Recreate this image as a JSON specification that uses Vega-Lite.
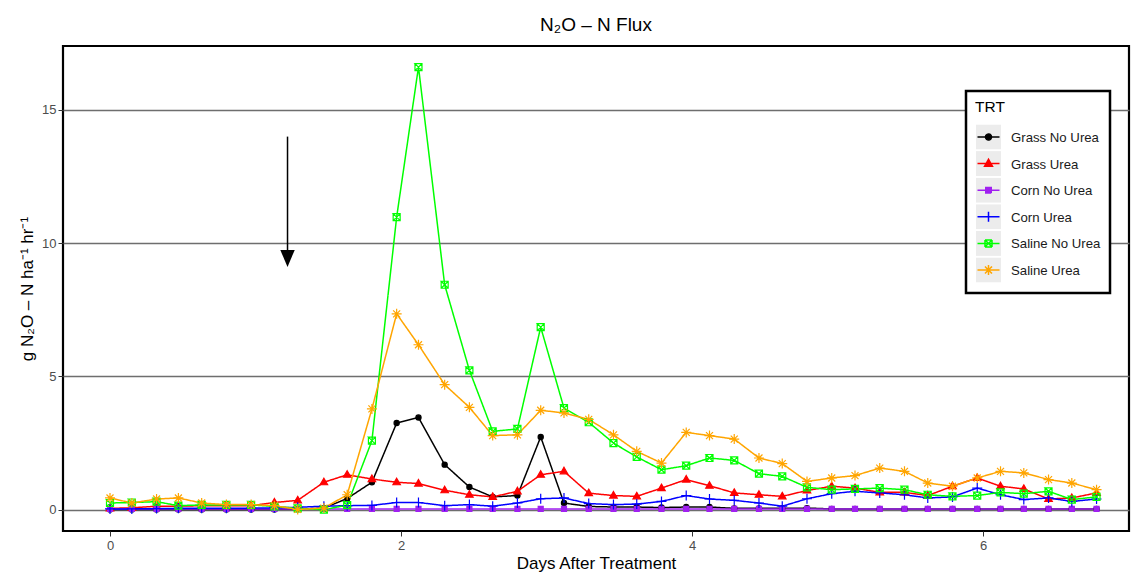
{
  "$schema": "https://vega.github.io/schema/vega-lite/v6.json",
  "width": 1066,
  "height": 485,
  "autosize": "none",
  "padding": {"left": 63, "top": 46, "right": 4, "bottom": 42},
  "background": "white",
  "title": {"text": "N₂O – N Flux", "fontSize": 19, "fontWeight": "normal", "color": "black", "anchor": "middle", "offset": 11},
  "data": {"values": [
    {"day":0,"TRT":"Grass No Urea","flux":0.01},{"day":0.15,"TRT":"Grass No Urea","flux":0.01},{"day":0.32,"TRT":"Grass No Urea","flux":0.01},{"day":0.47,"TRT":"Grass No Urea","flux":0.01},{"day":0.63,"TRT":"Grass No Urea","flux":0.01},{"day":0.80,"TRT":"Grass No Urea","flux":0.01},{"day":0.97,"TRT":"Grass No Urea","flux":0.01},{"day":1.13,"TRT":"Grass No Urea","flux":0.01},{"day":1.29,"TRT":"Grass No Urea","flux":0.02},{"day":1.47,"TRT":"Grass No Urea","flux":0.06},{"day":1.63,"TRT":"Grass No Urea","flux":0.42},{"day":1.80,"TRT":"Grass No Urea","flux":1.03},{"day":1.97,"TRT":"Grass No Urea","flux":3.25},{"day":2.12,"TRT":"Grass No Urea","flux":3.46},{"day":2.30,"TRT":"Grass No Urea","flux":1.69},{"day":2.47,"TRT":"Grass No Urea","flux":0.85},{"day":2.63,"TRT":"Grass No Urea","flux":0.48},{"day":2.80,"TRT":"Grass No Urea","flux":0.53},{"day":2.96,"TRT":"Grass No Urea","flux":2.73},{"day":3.12,"TRT":"Grass No Urea","flux":0.25},{"day":3.29,"TRT":"Grass No Urea","flux":0.12},{"day":3.46,"TRT":"Grass No Urea","flux":0.10},{"day":3.62,"TRT":"Grass No Urea","flux":0.10},{"day":3.79,"TRT":"Grass No Urea","flux":0.08},{"day":3.96,"TRT":"Grass No Urea","flux":0.10},{"day":4.12,"TRT":"Grass No Urea","flux":0.10},{"day":4.29,"TRT":"Grass No Urea","flux":0.05},{"day":4.46,"TRT":"Grass No Urea","flux":0.05},{"day":4.62,"TRT":"Grass No Urea","flux":0.05},{"day":4.79,"TRT":"Grass No Urea","flux":0.06},{"day":4.96,"TRT":"Grass No Urea","flux":0.03},{"day":5.12,"TRT":"Grass No Urea","flux":0.03},{"day":5.29,"TRT":"Grass No Urea","flux":0.03},{"day":5.46,"TRT":"Grass No Urea","flux":0.03},{"day":5.62,"TRT":"Grass No Urea","flux":0.03},{"day":5.79,"TRT":"Grass No Urea","flux":0.03},{"day":5.96,"TRT":"Grass No Urea","flux":0.03},{"day":6.12,"TRT":"Grass No Urea","flux":0.03},{"day":6.28,"TRT":"Grass No Urea","flux":0.03},{"day":6.45,"TRT":"Grass No Urea","flux":0.03},{"day":6.61,"TRT":"Grass No Urea","flux":0.03},{"day":6.78,"TRT":"Grass No Urea","flux":0.03},
    {"day":0,"TRT":"Grass Urea","flux":0.05},{"day":0.15,"TRT":"Grass Urea","flux":0.07},{"day":0.32,"TRT":"Grass Urea","flux":0.13},{"day":0.47,"TRT":"Grass Urea","flux":0.13},{"day":0.63,"TRT":"Grass Urea","flux":0.15},{"day":0.80,"TRT":"Grass Urea","flux":0.15},{"day":0.97,"TRT":"Grass Urea","flux":0.15},{"day":1.13,"TRT":"Grass Urea","flux":0.27},{"day":1.29,"TRT":"Grass Urea","flux":0.35},{"day":1.47,"TRT":"Grass Urea","flux":1.03},{"day":1.63,"TRT":"Grass Urea","flux":1.31},{"day":1.80,"TRT":"Grass Urea","flux":1.15},{"day":1.97,"TRT":"Grass Urea","flux":1.03},{"day":2.12,"TRT":"Grass Urea","flux":0.98},{"day":2.30,"TRT":"Grass Urea","flux":0.73},{"day":2.47,"TRT":"Grass Urea","flux":0.56},{"day":2.63,"TRT":"Grass Urea","flux":0.48},{"day":2.80,"TRT":"Grass Urea","flux":0.69},{"day":2.96,"TRT":"Grass Urea","flux":1.31},{"day":3.12,"TRT":"Grass Urea","flux":1.44},{"day":3.29,"TRT":"Grass Urea","flux":0.62},{"day":3.46,"TRT":"Grass Urea","flux":0.53},{"day":3.62,"TRT":"Grass Urea","flux":0.50},{"day":3.79,"TRT":"Grass Urea","flux":0.81},{"day":3.96,"TRT":"Grass Urea","flux":1.13},{"day":4.12,"TRT":"Grass Urea","flux":0.90},{"day":4.29,"TRT":"Grass Urea","flux":0.63},{"day":4.46,"TRT":"Grass Urea","flux":0.56},{"day":4.62,"TRT":"Grass Urea","flux":0.50},{"day":4.79,"TRT":"Grass Urea","flux":0.72},{"day":4.96,"TRT":"Grass Urea","flux":0.88},{"day":5.12,"TRT":"Grass Urea","flux":0.81},{"day":5.29,"TRT":"Grass Urea","flux":0.65},{"day":5.46,"TRT":"Grass Urea","flux":0.65},{"day":5.62,"TRT":"Grass Urea","flux":0.53},{"day":5.79,"TRT":"Grass Urea","flux":0.88},{"day":5.96,"TRT":"Grass Urea","flux":1.19},{"day":6.12,"TRT":"Grass Urea","flux":0.88},{"day":6.28,"TRT":"Grass Urea","flux":0.78},{"day":6.45,"TRT":"Grass Urea","flux":0.40},{"day":6.61,"TRT":"Grass Urea","flux":0.44},{"day":6.78,"TRT":"Grass Urea","flux":0.63},
    {"day":0,"TRT":"Corn No Urea","flux":0.03},{"day":0.15,"TRT":"Corn No Urea","flux":0.03},{"day":0.32,"TRT":"Corn No Urea","flux":0.03},{"day":0.47,"TRT":"Corn No Urea","flux":0.03},{"day":0.63,"TRT":"Corn No Urea","flux":0.03},{"day":0.80,"TRT":"Corn No Urea","flux":0.03},{"day":0.97,"TRT":"Corn No Urea","flux":0.03},{"day":1.13,"TRT":"Corn No Urea","flux":0.03},{"day":1.29,"TRT":"Corn No Urea","flux":0.03},{"day":1.47,"TRT":"Corn No Urea","flux":0.03},{"day":1.63,"TRT":"Corn No Urea","flux":0.03},{"day":1.80,"TRT":"Corn No Urea","flux":0.03},{"day":1.97,"TRT":"Corn No Urea","flux":0.03},{"day":2.12,"TRT":"Corn No Urea","flux":0.03},{"day":2.30,"TRT":"Corn No Urea","flux":0.03},{"day":2.47,"TRT":"Corn No Urea","flux":0.03},{"day":2.63,"TRT":"Corn No Urea","flux":0.03},{"day":2.80,"TRT":"Corn No Urea","flux":0.03},{"day":2.96,"TRT":"Corn No Urea","flux":0.03},{"day":3.12,"TRT":"Corn No Urea","flux":0.03},{"day":3.29,"TRT":"Corn No Urea","flux":0.03},{"day":3.46,"TRT":"Corn No Urea","flux":0.03},{"day":3.62,"TRT":"Corn No Urea","flux":0.03},{"day":3.79,"TRT":"Corn No Urea","flux":0.03},{"day":3.96,"TRT":"Corn No Urea","flux":0.03},{"day":4.12,"TRT":"Corn No Urea","flux":0.03},{"day":4.29,"TRT":"Corn No Urea","flux":0.03},{"day":4.46,"TRT":"Corn No Urea","flux":0.03},{"day":4.62,"TRT":"Corn No Urea","flux":0.03},{"day":4.79,"TRT":"Corn No Urea","flux":0.03},{"day":4.96,"TRT":"Corn No Urea","flux":0.03},{"day":5.12,"TRT":"Corn No Urea","flux":0.03},{"day":5.29,"TRT":"Corn No Urea","flux":0.03},{"day":5.46,"TRT":"Corn No Urea","flux":0.03},{"day":5.62,"TRT":"Corn No Urea","flux":0.03},{"day":5.79,"TRT":"Corn No Urea","flux":0.03},{"day":5.96,"TRT":"Corn No Urea","flux":0.03},{"day":6.12,"TRT":"Corn No Urea","flux":0.03},{"day":6.28,"TRT":"Corn No Urea","flux":0.03},{"day":6.45,"TRT":"Corn No Urea","flux":0.03},{"day":6.61,"TRT":"Corn No Urea","flux":0.03},{"day":6.78,"TRT":"Corn No Urea","flux":0.03},
    {"day":0,"TRT":"Corn Urea","flux":0.03},{"day":0.15,"TRT":"Corn Urea","flux":0.03},{"day":0.32,"TRT":"Corn Urea","flux":0.04},{"day":0.47,"TRT":"Corn Urea","flux":0.05},{"day":0.63,"TRT":"Corn Urea","flux":0.05},{"day":0.80,"TRT":"Corn Urea","flux":0.05},{"day":0.97,"TRT":"Corn Urea","flux":0.06},{"day":1.13,"TRT":"Corn Urea","flux":0.07},{"day":1.29,"TRT":"Corn Urea","flux":0.09},{"day":1.47,"TRT":"Corn Urea","flux":0.13},{"day":1.63,"TRT":"Corn Urea","flux":0.15},{"day":1.80,"TRT":"Corn Urea","flux":0.16},{"day":1.97,"TRT":"Corn Urea","flux":0.27},{"day":2.12,"TRT":"Corn Urea","flux":0.27},{"day":2.30,"TRT":"Corn Urea","flux":0.15},{"day":2.47,"TRT":"Corn Urea","flux":0.19},{"day":2.63,"TRT":"Corn Urea","flux":0.13},{"day":2.80,"TRT":"Corn Urea","flux":0.25},{"day":2.96,"TRT":"Corn Urea","flux":0.41},{"day":3.12,"TRT":"Corn Urea","flux":0.44},{"day":3.29,"TRT":"Corn Urea","flux":0.23},{"day":3.46,"TRT":"Corn Urea","flux":0.19},{"day":3.62,"TRT":"Corn Urea","flux":0.21},{"day":3.79,"TRT":"Corn Urea","flux":0.31},{"day":3.96,"TRT":"Corn Urea","flux":0.53},{"day":4.12,"TRT":"Corn Urea","flux":0.40},{"day":4.29,"TRT":"Corn Urea","flux":0.35},{"day":4.46,"TRT":"Corn Urea","flux":0.25},{"day":4.62,"TRT":"Corn Urea","flux":0.13},{"day":4.79,"TRT":"Corn Urea","flux":0.41},{"day":4.96,"TRT":"Corn Urea","flux":0.60},{"day":5.12,"TRT":"Corn Urea","flux":0.69},{"day":5.29,"TRT":"Corn Urea","flux":0.63},{"day":5.46,"TRT":"Corn Urea","flux":0.56},{"day":5.62,"TRT":"Corn Urea","flux":0.44},{"day":5.79,"TRT":"Corn Urea","flux":0.48},{"day":5.96,"TRT":"Corn Urea","flux":0.81},{"day":6.12,"TRT":"Corn Urea","flux":0.56},{"day":6.28,"TRT":"Corn Urea","flux":0.38},{"day":6.45,"TRT":"Corn Urea","flux":0.44},{"day":6.61,"TRT":"Corn Urea","flux":0.31},{"day":6.78,"TRT":"Corn Urea","flux":0.40},
    {"day":0,"TRT":"Saline No Urea","flux":0.25},{"day":0.15,"TRT":"Saline No Urea","flux":0.27},{"day":0.32,"TRT":"Saline No Urea","flux":0.30},{"day":0.47,"TRT":"Saline No Urea","flux":0.15},{"day":0.63,"TRT":"Saline No Urea","flux":0.18},{"day":0.80,"TRT":"Saline No Urea","flux":0.18},{"day":0.97,"TRT":"Saline No Urea","flux":0.18},{"day":1.13,"TRT":"Saline No Urea","flux":0.12},{"day":1.29,"TRT":"Saline No Urea","flux":0.05},{"day":1.47,"TRT":"Saline No Urea","flux":0.0},{"day":1.63,"TRT":"Saline No Urea","flux":0.17},{"day":1.80,"TRT":"Saline No Urea","flux":2.59},{"day":1.97,"TRT":"Saline No Urea","flux":10.98},{"day":2.12,"TRT":"Saline No Urea","flux":16.61},{"day":2.30,"TRT":"Saline No Urea","flux":8.44},{"day":2.47,"TRT":"Saline No Urea","flux":5.23},{"day":2.63,"TRT":"Saline No Urea","flux":2.94},{"day":2.80,"TRT":"Saline No Urea","flux":3.03},{"day":2.96,"TRT":"Saline No Urea","flux":6.85},{"day":3.12,"TRT":"Saline No Urea","flux":3.81},{"day":3.29,"TRT":"Saline No Urea","flux":3.28},{"day":3.46,"TRT":"Saline No Urea","flux":2.50},{"day":3.62,"TRT":"Saline No Urea","flux":1.98},{"day":3.79,"TRT":"Saline No Urea","flux":1.50},{"day":3.96,"TRT":"Saline No Urea","flux":1.65},{"day":4.12,"TRT":"Saline No Urea","flux":1.94},{"day":4.29,"TRT":"Saline No Urea","flux":1.85},{"day":4.46,"TRT":"Saline No Urea","flux":1.35},{"day":4.62,"TRT":"Saline No Urea","flux":1.25},{"day":4.79,"TRT":"Saline No Urea","flux":0.84},{"day":4.96,"TRT":"Saline No Urea","flux":0.75},{"day":5.12,"TRT":"Saline No Urea","flux":0.78},{"day":5.29,"TRT":"Saline No Urea","flux":0.81},{"day":5.46,"TRT":"Saline No Urea","flux":0.75},{"day":5.62,"TRT":"Saline No Urea","flux":0.56},{"day":5.79,"TRT":"Saline No Urea","flux":0.50},{"day":5.96,"TRT":"Saline No Urea","flux":0.53},{"day":6.12,"TRT":"Saline No Urea","flux":0.65},{"day":6.28,"TRT":"Saline No Urea","flux":0.60},{"day":6.45,"TRT":"Saline No Urea","flux":0.69},{"day":6.61,"TRT":"Saline No Urea","flux":0.38},{"day":6.78,"TRT":"Saline No Urea","flux":0.48},
    {"day":0,"TRT":"Saline Urea","flux":0.44},{"day":0.15,"TRT":"Saline Urea","flux":0.25},{"day":0.32,"TRT":"Saline Urea","flux":0.40},{"day":0.47,"TRT":"Saline Urea","flux":0.44},{"day":0.63,"TRT":"Saline Urea","flux":0.25},{"day":0.80,"TRT":"Saline Urea","flux":0.19},{"day":0.97,"TRT":"Saline Urea","flux":0.19},{"day":1.13,"TRT":"Saline Urea","flux":0.15},{"day":1.29,"TRT":"Saline Urea","flux":0.01},{"day":1.47,"TRT":"Saline Urea","flux":0.06},{"day":1.63,"TRT":"Saline Urea","flux":0.56},{"day":1.80,"TRT":"Saline Urea","flux":3.78},{"day":1.97,"TRT":"Saline Urea","flux":7.35},{"day":2.12,"TRT":"Saline Urea","flux":6.19},{"day":2.30,"TRT":"Saline Urea","flux":4.69},{"day":2.47,"TRT":"Saline Urea","flux":3.84},{"day":2.63,"TRT":"Saline Urea","flux":2.78},{"day":2.80,"TRT":"Saline Urea","flux":2.81},{"day":2.96,"TRT":"Saline Urea","flux":3.73},{"day":3.12,"TRT":"Saline Urea","flux":3.63},{"day":3.29,"TRT":"Saline Urea","flux":3.39},{"day":3.46,"TRT":"Saline Urea","flux":2.81},{"day":3.62,"TRT":"Saline Urea","flux":2.19},{"day":3.79,"TRT":"Saline Urea","flux":1.75},{"day":3.96,"TRT":"Saline Urea","flux":2.90},{"day":4.12,"TRT":"Saline Urea","flux":2.78},{"day":4.29,"TRT":"Saline Urea","flux":2.65},{"day":4.46,"TRT":"Saline Urea","flux":1.94},{"day":4.62,"TRT":"Saline Urea","flux":1.73},{"day":4.79,"TRT":"Saline Urea","flux":1.06},{"day":4.96,"TRT":"Saline Urea","flux":1.19},{"day":5.12,"TRT":"Saline Urea","flux":1.28},{"day":5.29,"TRT":"Saline Urea","flux":1.56},{"day":5.46,"TRT":"Saline Urea","flux":1.44},{"day":5.62,"TRT":"Saline Urea","flux":1.00},{"day":5.79,"TRT":"Saline Urea","flux":0.88},{"day":5.96,"TRT":"Saline Urea","flux":1.19},{"day":6.12,"TRT":"Saline Urea","flux":1.44},{"day":6.28,"TRT":"Saline Urea","flux":1.38},{"day":6.45,"TRT":"Saline Urea","flux":1.13},{"day":6.61,"TRT":"Saline Urea","flux":1.00},{"day":6.78,"TRT":"Saline Urea","flux":0.75}
  ]},
  "layer": [
    {
      "mark": {"type": "line", "strokeWidth": 1.5},
      "encoding": {
        "x": {"field": "day", "type": "quantitative", "scale": {"domain": [-0.323, 7.003], "nice": false, "zero": false},
              "axis": {"title": "Days After Treatment", "values": [0, 2, 4, 6], "format": "d", "grid": false, "labelPadding": 3, "titlePadding": 3}},
        "y": {"field": "flux", "type": "quantitative", "scale": {"domain": [-0.8, 17.4], "nice": false, "zero": false},
              "axis": {"title": "g N₂O – N ha⁻¹ hr⁻¹", "values": [0, 5, 10, 15], "grid": true, "gridColor": "#6e6e6e", "gridWidth": 1.3, "labelPadding": 2, "titlePadding": 5}},
        "color": {"field": "TRT", "type": "nominal",
          "scale": {"domain": ["Grass No Urea", "Grass Urea", "Corn No Urea", "Corn Urea", "Saline No Urea", "Saline Urea"],
                    "range": ["#000000", "#ff0000", "#a020f0", "#0000ff", "#00ff00", "#ffa500"]},
          "legend": {
            "title": null, "orient": "none", "legendX": 903, "legendY": 69.5, "zindex": 3,
            "padding": 9, "labelExpr": "''", "labelFontSize": 13.2, "labelOffset": 9,
            "symbolSize": 625, "symbolStrokeWidth": 1.5, "rowPadding": 1.6, "clipHeight": 25,
            "encode": {
              "symbols": {"update": {
                "shape": {"signal": "datum.value === 'Grass No Urea' ? 'M-0.88,0L0.88,0M0.24,0A0.24,0.24,0,1,1,-0.24,0A0.24,0.24,0,1,1,0.24,0Z' : datum.value === 'Grass Urea' ? 'M-0.88,0L0.88,0M0,-0.34L0.32,0.22L-0.32,0.22Z' : datum.value === 'Corn No Urea' ? 'M-0.88,0L0.88,0M-0.22,-0.22L0.22,-0.22L0.22,0.22L-0.22,0.22Z' : datum.value === 'Corn Urea' ? 'M-0.88,0L0.88,0M0,-0.4L0,0.4' : datum.value === 'Saline No Urea' ? 'M-0.88,0L0.88,0M-0.28,-0.28L0.28,-0.28L0.28,0.28L-0.28,0.28L-0.28,-0.28L-0.28,0.28L0.28,0.28L0.28,-0.28L-0.28,-0.28L0.28,0.28M-0.28,0.28L0.28,-0.28' : 'M-0.88,0L0.88,0M0,-0.4L0,0.4M-0.28,-0.28L0.28,0.28M-0.28,0.28L0.28,-0.28'"},
                "fill": {"scale": "color", "field": "value"},
                "stroke": {"scale": "color", "field": "value"},
                "strokeWidth": {"value": 1.5},
                "strokeDash": {"value": [1, 0]},
                "opacity": {"value": 1}
              }}
            }
          }
        },
        "strokeDash": {"field": "TRT", "type": "nominal",
          "scale": {"domain": ["Saline Urea", "Saline No Urea", "Corn Urea", "Corn No Urea", "Grass Urea", "Grass No Urea"],
                    "range": [[1, 0], [1, 0], [1, 0], [1, 0], [1, 0], [1, 0]]},
          "legend": {
            "title": null, "orient": "none", "legendX": 903, "legendY": 69.5, "zindex": 2,
            "padding": 9, "labelExpr": "''", "labelFontSize": 13.2, "labelOffset": 9,
            "symbolSize": 625, "symbolStrokeWidth": 1.5, "rowPadding": 1.6, "clipHeight": 25,
            "encode": {
              "symbols": {"update": {
                "shape": {"value": "square"},
                "fill": {"value": "#ececec"},
                "stroke": {"value": "transparent"},
                "opacity": {"value": 1}
              }}
            }
          }
        },
        "opacity": {"field": "TRT", "type": "nominal", "scale": {"range": [1, 1]},
          "sort": ["Grass No Urea", "Grass Urea", "Corn No Urea", "Corn Urea", "Saline No Urea", "Saline Urea"],
          "legend": {
            "title": "TRT", "orient": "none", "legendX": 903, "legendY": 45, "zindex": 1,
            "fillColor": "white", "strokeColor": "black", "padding": 9,
            "titleFontSize": 15.5, "titleFontWeight": "normal", "titleColor": "black", "titlePadding": 10,
            "labelFontSize": 13.2, "labelColor": "#1a1a1a", "labelOffset": 9,
            "symbolSize": 625, "symbolStrokeWidth": 1.5, "rowPadding": 1.6, "clipHeight": 25,
            "encode": {
              "legend": {"update": {"strokeWidth": {"value": 2.5}}},
              "symbols": {"update": {
                "shape": {"value": "square"},
                "fill": {"value": "transparent"},
                "stroke": {"value": "transparent"},
                "opacity": {"value": 0}
              }}
            }
          }
        }
      }
    },
    {
      "transform": [{"filter": "datum.TRT === 'Grass No Urea'"}],
      "mark": {"type": "point", "filled": true, "size": 100, "strokeWidth": 1.2, "opacity": 1, "fill": "#000000", "stroke": "#000000",
               "shape": "M0.52,0A0.52,0.52,0,1,1,-0.52,0A0.52,0.52,0,1,1,0.52,0Z"},
      "encoding": {"x": {"field": "day", "type": "quantitative"}, "y": {"field": "flux", "type": "quantitative"}}
    },
    {
      "transform": [{"filter": "datum.TRT === 'Grass Urea'"}],
      "mark": {"type": "point", "filled": true, "size": 100, "strokeWidth": 1.2, "opacity": 1, "fill": "#ff0000", "stroke": "#ff0000",
               "shape": "M0,-0.8L0.75,0.5L-0.75,0.5Z"},
      "encoding": {"x": {"field": "day", "type": "quantitative"}, "y": {"field": "flux", "type": "quantitative"}}
    },
    {
      "transform": [{"filter": "datum.TRT === 'Corn No Urea'"}],
      "mark": {"type": "point", "filled": true, "size": 100, "strokeWidth": 1.2, "opacity": 1, "fill": "#a020f0", "stroke": "#a020f0",
               "shape": "M-0.5,-0.5L0.5,-0.5L0.5,0.5L-0.5,0.5Z"},
      "encoding": {"x": {"field": "day", "type": "quantitative"}, "y": {"field": "flux", "type": "quantitative"}}
    },
    {
      "transform": [{"filter": "datum.TRT === 'Corn Urea'"}],
      "mark": {"type": "point", "filled": true, "size": 100, "strokeWidth": 1.2, "opacity": 1, "fill": "#0000ff", "stroke": "#0000ff",
               "shape": "M-1,0L1,0M0,-1L0,1"},
      "encoding": {"x": {"field": "day", "type": "quantitative"}, "y": {"field": "flux", "type": "quantitative"}}
    },
    {
      "transform": [{"filter": "datum.TRT === 'Saline No Urea'"}],
      "mark": {"type": "point", "filled": true, "size": 100, "strokeWidth": 1.2, "opacity": 1, "fill": "#00ff00", "stroke": "#00ff00",
               "shape": "M-0.7,-0.7L0.7,-0.7L0.7,0.7L-0.7,0.7L-0.7,-0.7L-0.7,0.7L0.7,0.7L0.7,-0.7L-0.7,-0.7L0.7,0.7M-0.7,0.7L0.7,-0.7"},
      "encoding": {"x": {"field": "day", "type": "quantitative"}, "y": {"field": "flux", "type": "quantitative"}}
    },
    {
      "transform": [{"filter": "datum.TRT === 'Saline Urea'"}],
      "mark": {"type": "point", "filled": true, "size": 100, "strokeWidth": 1.2, "opacity": 1, "fill": "#ffa500", "stroke": "#ffa500",
               "shape": "M-1,0L1,0M0,-1L0,1M-0.7,-0.7L0.7,0.7M-0.7,0.7L0.7,-0.7"},
      "encoding": {"x": {"field": "day", "type": "quantitative"}, "y": {"field": "flux", "type": "quantitative"}}
    },
    {
      "data": {"values": [{"day": 1.22, "start": 14.0, "end": 9.6, "head": 9.43}]},
      "mark": {"type": "rule", "color": "black", "strokeWidth": 1.5},
      "encoding": {
        "x": {"field": "day", "type": "quantitative"},
        "y": {"field": "start", "type": "quantitative"},
        "y2": {"field": "end"}
      }
    },
    {
      "data": {"values": [{"day": 1.22, "start": 14.0, "end": 9.6, "head": 9.43}]},
      "mark": {"type": "point", "filled": true, "color": "black", "opacity": 1, "size": 289, "shape": "M-0.85,-1L0.85,-1L0,1Z"},
      "encoding": {
        "x": {"field": "day", "type": "quantitative"},
        "y": {"field": "head", "type": "quantitative"}
      }
    }
  ],
  "config": {
    "font": "Liberation Sans",
    "view": {"stroke": "black", "strokeWidth": 2.2},
    "axis": {
      "domain": false,
      "labelColor": "#4d4d4d",
      "labelFontSize": 13,
      "tickColor": "#333333",
      "tickSize": 5,
      "tickWidth": 1,
      "titleFontSize": 17,
      "titleFontWeight": "normal",
      "titleColor": "black"
    }
  }
}
